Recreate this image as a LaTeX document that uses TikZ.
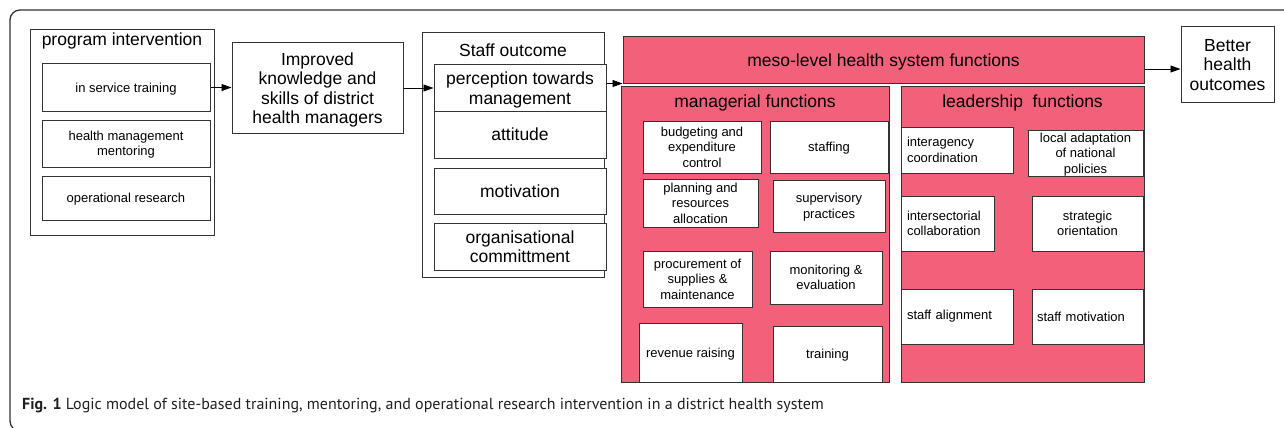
\documentclass[tikz,border=0pt]{standalone}
\usepackage{fontspec}
\setmainfont{Liberation Sans}
\newfontfamily\captionfont{PT Sans}
\usetikzlibrary{arrows.meta}
\definecolor{mesored}{HTML}{F2607A}
\definecolor{edge}{HTML}{333333}
\definecolor{captext}{HTML}{231F20}
\tikzset{
  frame/.style={draw=edge, line width=1pt, inner sep=0pt, fill=white},
  smalltxt/.style={font=\fontsize{13}{15.5}\selectfont, align=center},
  bigtxt/.style={font=\fontsize{17.5}{19.5}\selectfont, align=center},
  sbox/.style={frame, smalltxt, text depth=0pt},
  lbox/.style={frame, smalltxt, align=left, inner xsep=6pt, yshift=0pt},
  bbox/.style={frame, bigtxt, text depth=0pt},
  redbox/.style={draw=edge, line width=1pt, fill=mesored, inner sep=0pt},
  title/.style={bigtxt, inner sep=0pt},
  flow/.style={draw=black, line width=0.9pt, -{Triangle[length=10pt,width=7pt]}},
}
\begin{document}
\begin{tikzpicture}[x=1pt,y=-1pt]
\useasboundingbox (0,0) rectangle (1284,428);
\clip (0,0) rectangle (1284,428);
% outer figure frame
\draw[edge, line width=1.3pt, rounded corners=10pt] (10,10) rectangle (1300,431);

% program intervention
\node[frame, minimum width=184pt, minimum height=205pt] (prog) at (122,132.5) {};
\node[title] (progt) at (122,41) {program intervention};
\node[sbox, minimum width=168pt, minimum height=47pt] (ist) at (126,87.5) {in service training};
\node[sbox, minimum width=168pt, minimum height=47pt] (hmm) at (126,143.5) {health management\\mentoring};
\node[sbox, minimum width=168pt, minimum height=44pt] (opr) at (126,198) {operational research};

% knowledge and skills
\node[bbox, minimum width=171pt, minimum height=90pt] (imp) at (317.5,88) {Improved\\knowledge and\\skills of district\\health managers};

% staff outcome
\node[frame, minimum width=182pt, minimum height=244pt] (staff) at (513,155) {};
\node[title] (stafft) at (513,50) {Staff outcome};
\node[bbox, minimum width=172pt, minimum height=46pt] (perc) at (520,88) {perception towards\\management};
\node[bbox, minimum width=172pt, minimum height=47pt] (att) at (520,134.5) {attitude};
\node[bbox, minimum width=172pt, minimum height=46pt] (mot) at (520,191) {motivation};
\node[bbox, minimum width=172pt, minimum height=47pt] (com) at (520,246.5) {organisational\\committment};

% meso-level health system functions
\node[redbox, bigtxt, text depth=0pt, minimum width=521pt, minimum height=46pt] (meso) at (883.5,60) {meso-level health system functions};
\node[redbox, minimum width=268pt, minimum height=296pt] (mgr) at (755,234) {};
\node[title] (mgrt) at (755,103) {managerial functions};
\node[redbox, minimum width=243pt, minimum height=296pt] (lead) at (1022.5,234) {};
\node[title] (leadt) at (1022.5,103) {leadership\ \ functions};

% managerial functions
\node[sbox, minimum width=118pt, minimum height=52pt] (bud) at (702,147) {budgeting and\\expenditure\\control};
\node[sbox, minimum width=118pt, minimum height=52pt] (stf) at (829,147) {staffing};
\node[sbox, minimum width=115pt, minimum height=48pt] (pla) at (700.5,203) {planning and\\resources\\allocation};
\node[sbox, minimum width=112pt, minimum height=52pt] (sup) at (829,206) {supervisory\\practices};
\node[sbox, minimum width=109pt, minimum height=56pt] (pro) at (697.5,279) {procurement of\\supplies \&\\maintenance};
\node[sbox, minimum width=112pt, minimum height=53pt] (mon) at (826,277.5) {monitoring \&\\evaluation};
\node[sbox, minimum width=103pt, minimum height=59pt] (rev) at (690.5,352.5) {revenue raising};
\node[sbox, minimum width=109pt, minimum height=56pt] (trn) at (827.5,354) {training};

% leadership functions
\node[lbox, text width=100pt, minimum height=46pt] (iac) at (957,150) {interagency\\coordination};
\node[sbox, minimum width=115pt, minimum height=46pt] (lap) at (1085.5,153) {local adaptation\\of national\\policies};
\node[lbox, text width=81pt, minimum height=55pt] (isc) at (947.5,223.5) {intersectorial\\collaboration};
\node[sbox, minimum width=111pt, minimum height=55pt] (str) at (1087.5,223.5) {strategic\\orientation};
\node[lbox, text width=100pt, minimum height=55pt] (sal) at (957,316.5) {staff alignment};
\node[lbox, text width=101pt, inner xsep=5pt, minimum height=55pt] (smo) at (1087.5,316.5) {staff motivation};

% outcome
\node[bbox, minimum width=93pt, minimum height=75pt] (bho) at (1227.5,64.5) {Better\\health\\outcomes};

% connectors
\draw[flow] (ist.east) -- (imp.west |- ist.east);
\draw[flow] (imp.east |- perc.west) -- (perc.west);
\draw[flow] (perc.east |- meso.south west) -- (meso.south west);
\draw[flow] (meso.east |- 0,69) -- (bho.west |- 0,69);

% caption
\node[anchor=base west, inner sep=0pt, text=captext, font=\captionfont\fontsize{16}{19}\selectfont] (cap) at (22,409)
  {\textbf{Fig. 1} Logic model of site-based training, mentoring, and operational research intervention in a district health system};
\end{tikzpicture}
\end{document}
